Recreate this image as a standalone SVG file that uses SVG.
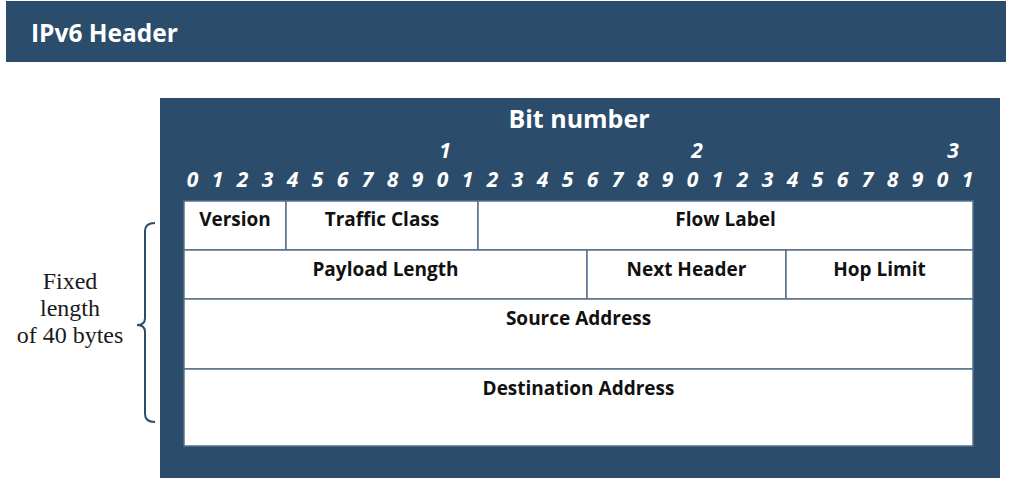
<svg xmlns="http://www.w3.org/2000/svg" width="1020" height="496" viewBox="0 0 1020 496">
<style>
.navy{fill:#2b4c6b}
.cell{fill:#ffffff;stroke:#56718b;stroke-width:1.5}
.lbl{font-family:"Open Sans","Liberation Sans",sans-serif;font-weight:700;font-size:19px;fill:#111;text-anchor:middle}
.dig{font-family:"Open Sans","Liberation Sans",sans-serif;font-weight:700;font-style:italic;font-size:21px;fill:#fff;text-anchor:middle}
.side{font-family:"Liberation Serif","DejaVu Serif",serif;font-size:24px;fill:#1a1a1a;text-anchor:middle}
</style>
<rect width="1020" height="496" fill="#ffffff"/>
<g id="title">
  <rect class="navy" x="6" y="1" width="1000" height="61"/>
  <text x="31" y="42" font-family="'Open Sans','Liberation Sans',sans-serif" font-weight="700" font-size="24.5" fill="#fff">IPv6 Header</text>
</g>
<g id="frame">
  <rect class="navy" x="160" y="98" width="840" height="380"/>
  <text x="579" y="128" font-family="'Open Sans','Liberation Sans',sans-serif" font-weight="700" font-size="25" fill="#fff" text-anchor="middle">Bit number</text>
</g>
<g id="bit-numbers">
  <text class="dig" x="445" y="158">1</text>
  <text class="dig" x="697" y="158">2</text>
  <text class="dig" x="953" y="158">3</text>
  <text class="dig" x="192.5" y="187">0</text>
  <text class="dig" x="217.5" y="187">1</text>
  <text class="dig" x="242.5" y="187">2</text>
  <text class="dig" x="267.5" y="187">3</text>
  <text class="dig" x="292.5" y="187">4</text>
  <text class="dig" x="317.5" y="187">5</text>
  <text class="dig" x="342.5" y="187">6</text>
  <text class="dig" x="367.5" y="187">7</text>
  <text class="dig" x="392.5" y="187">8</text>
  <text class="dig" x="417.5" y="187">9</text>
  <text class="dig" x="442.5" y="187">0</text>
  <text class="dig" x="467.5" y="187">1</text>
  <text class="dig" x="492.5" y="187">2</text>
  <text class="dig" x="517.5" y="187">3</text>
  <text class="dig" x="542.5" y="187">4</text>
  <text class="dig" x="567.5" y="187">5</text>
  <text class="dig" x="592.5" y="187">6</text>
  <text class="dig" x="617.5" y="187">7</text>
  <text class="dig" x="642.5" y="187">8</text>
  <text class="dig" x="667.5" y="187">9</text>
  <text class="dig" x="692.5" y="187">0</text>
  <text class="dig" x="717.5" y="187">1</text>
  <text class="dig" x="742.5" y="187">2</text>
  <text class="dig" x="767.5" y="187">3</text>
  <text class="dig" x="792.5" y="187">4</text>
  <text class="dig" x="817.5" y="187">5</text>
  <text class="dig" x="842.5" y="187">6</text>
  <text class="dig" x="867.5" y="187">7</text>
  <text class="dig" x="892.5" y="187">8</text>
  <text class="dig" x="917.5" y="187">9</text>
  <text class="dig" x="942.5" y="187">0</text>
  <text class="dig" x="967.5" y="187">1</text>
</g>
<g id="version"><rect class="cell" x="184" y="201" width="102" height="49"/><text class="lbl" x="235" y="226">Version</text></g>
<g id="traffic-class"><rect class="cell" x="286" y="201" width="192" height="49"/><text class="lbl" x="382" y="226">Traffic Class</text></g>
<g id="flow-label"><rect class="cell" x="478" y="201" width="495" height="49"/><text class="lbl" x="725.5" y="226">Flow Label</text></g>
<g id="payload-length"><rect class="cell" x="184" y="250" width="403" height="49"/><text class="lbl" x="385.5" y="276">Payload Length</text></g>
<g id="next-header"><rect class="cell" x="587" y="250" width="199" height="49"/><text class="lbl" x="686.5" y="276">Next Header</text></g>
<g id="hop-limit"><rect class="cell" x="786" y="250" width="187" height="49"/><text class="lbl" x="879.5" y="276">Hop Limit</text></g>
<g id="source-address"><rect class="cell" x="184" y="299" width="789" height="70"/><text class="lbl" x="578.5" y="325">Source Address</text></g>
<g id="destination-address"><rect class="cell" x="184" y="369" width="789" height="77"/><text class="lbl" x="578.5" y="395">Destination Address</text></g>
<g id="connectors">
  <path d="M155,223 Q145,223 145,231 L145,318 Q145,325 137,325 Q145,325 145,332 L145,414 Q145,422 155,422" fill="none" stroke="#2b4c6b" stroke-width="2"/>
</g>
<g id="fixed-length">
  <text class="side" x="70" y="289">Fixed</text>
  <text class="side" x="70" y="316">length</text>
  <text class="side" x="70" y="343">of 40 bytes</text>
</g>
</svg>
